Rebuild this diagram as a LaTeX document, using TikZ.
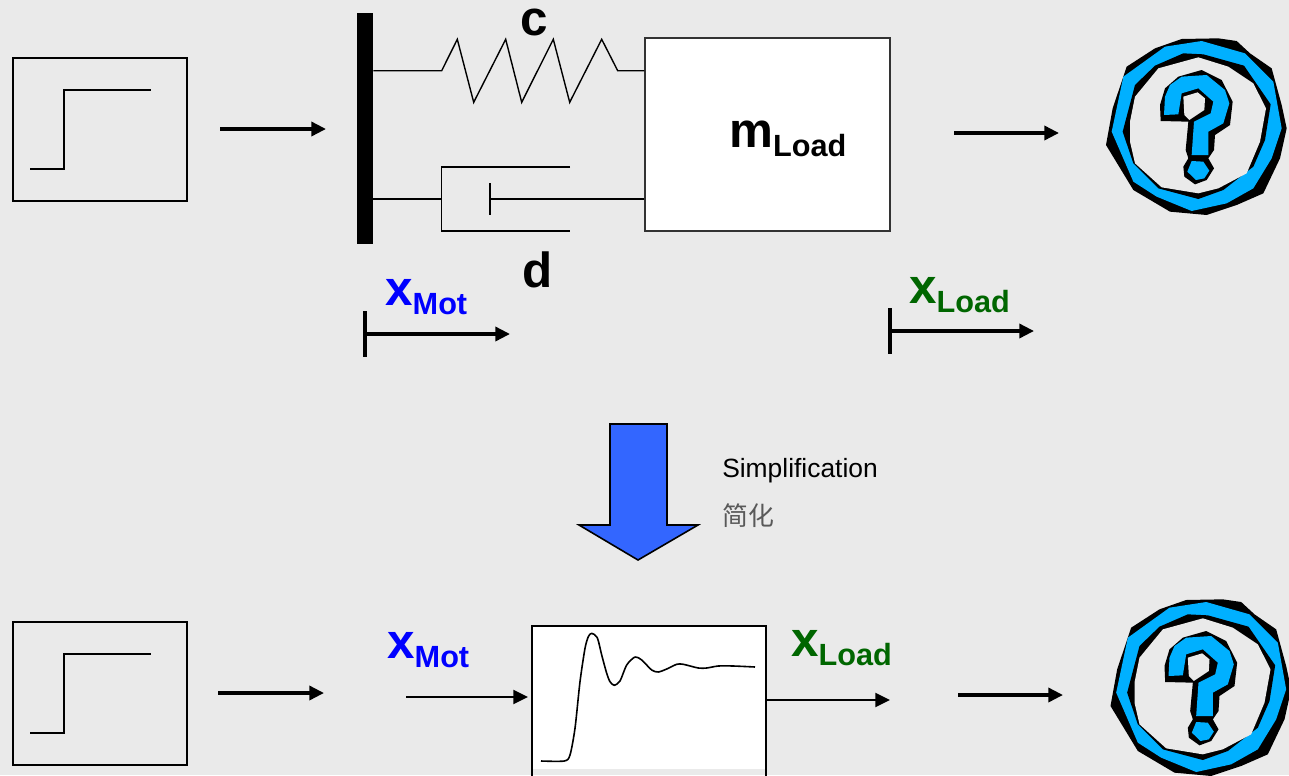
\documentclass[tikz,border=0pt]{standalone}
\usepackage{fontspec}
\setmainfont{Liberation Sans}
\newfontfamily\cjkfont{Noto Sans CJK SC}
\usetikzlibrary{arrows.meta}
\definecolor{bgc}{HTML}{EAEAEA}
\definecolor{cyanq}{HTML}{00B0FF}
\definecolor{xblue}{HTML}{0000FF}
\definecolor{xgreen}{HTML}{006600}
\definecolor{bigblue}{HTML}{3366FF}
\newcommand{\biglab}[2]{{\fontsize{37}{37}\selectfont\bfseries #1\raisebox{-7.2pt}{\fontsize{23}{23}\selectfont #2}}}
\newcommand{\qicon}[2]{%
\begin{scope}[shift={(#1,#2)},x=0.25pt,y=-0.25pt]
\fill[black] (275,42)--(385,40)--(440,48)--(480,85)--(545,130)--(575,240)--(590,310)--(570,400)--(520,505)--(440,540)--(350,570)--(240,560)--(130,495)--(48,360)--(68,250)--(110,125)--(195,70)--cycle;
\fill[cyanq] (225,65)--(335,48)--(465,85)--(550,170)--(575,310)--(545,400)--(490,490)--(410,535)--(305,558)--(200,515)--(130,470)--(65,320)--(100,155)--cycle;
\fill[black] (195,122)--(280,85)--(340,88)--(462,122)--(542,238)--(525,345)--(490,425)--(400,495)--(325,522)--(205,490)--(130,415)--(98,320)--(135,180)--cycle;
\fill[bgc] (205,130)--(325,97)--(415,125)--(490,175)--(528,250)--(510,350)--(470,445)--(385,490)--(325,505)--(215,487)--(135,415)--(120,350)--(120,290)--(135,215)--cycle;
\fill[black] (335,135)--(395,165)--(428,230)--(420,300)--(375,330)--(372,375)--(355,400)--(372,430)--(350,465)--(315,478)--(283,455)--(280,425)--(295,400)--(287,375)--(295,290)--(212,288)--(210,240)--(225,190)--(265,155)--cycle;
\fill[bgc] (280,215)--(323,202)--(345,220)--(343,255)--(298,285)--(283,270)--cycle;
\fill[cyanq] (275,155)--(350,150)--(405,195)--(418,235)--(400,295)--(355,320)--(355,390)--(305,390)--(312,290)--(362,265)--(370,230)--(325,190)--(275,205)--(265,268)--(222,270)--(225,215)--(240,180)--cycle;
\fill[cyanq] (305,408)--(340,410)--(358,437)--(343,460)--(318,465)--(292,440)--cycle;
\end{scope}}
\tikzset{
 thinl/.style={line width=1.05pt},
 arr/.style={line width=2.6pt,-{Triangle[length=11pt,width=10.5pt]}},
 tick/.style={line width=2.6pt},
 arrs/.style={line width=1.6pt,-{Triangle[length=11pt,width=10.5pt]}},
 box/.style={draw=black,line width=1.5pt,fill=none,inner sep=0pt,minimum width=130.5pt,minimum height=107.25pt},
 lab/.style={inner sep=0pt,anchor=base west},
 stepl/.style={line width=2pt},
}
\begin{document}
\begin{tikzpicture}[x=0.75pt,y=-0.75pt]
\useasboundingbox (0,0) rectangle (1289,775);
\fill[bgc] (0,0) rectangle (1289,775);
% step inputs
\node[box] (step1) at (100,129.5) {};
\node[box] (step2) at (100,693.5) {};
\draw[stepl] (30,169)--(64,169)--(64,90)--(151,90);
\draw[stepl] (30,733)--(64,733)--(64,654)--(151,654);
% wall
\node[fill=black,inner sep=0pt,minimum width=12pt,minimum height=173.25pt] (wall) at (365,128.5) {};
% mass
\node[draw=black!80,fill=white,line width=1.1pt,inner sep=0pt,minimum width=183.75pt,minimum height=144.75pt] (mass) at (767.5,134.5) {};
\node[lab] (mtext) at (729,147) {\biglab{m}{Load}};
% spring
\coordinate (sa) at (wall.east|-0,70.7);
\coordinate (sb) at (mass.west|-0,70.7);
\draw[thinl,line join=miter] (sa)--(441.7,70.7)--(457.3,39.3)--(473.7,102.3)--(505.7,39.3)--(521.7,102.3)--(553.3,39.3)--(569.7,102.3)--(601.7,39.3)--(617.7,70.7)--(sb);
\node[lab,anchor=base] (ctext) at (534,35) {\fontsize{37}{37}\selectfont\bfseries c};
% damper
\coordinate (da) at (wall.east|-0,199);
\coordinate (db) at (mass.west|-0,199);
\draw[thinl] (da)--(441.7,199);
\draw[thinl] (570,167)--(441.7,167)--(441.7,231)--(570,231);
\draw[thinl] (490,183)--(490,215);
\draw[thinl] (490,199)--(db);
\node[lab,anchor=base] (dtext) at (538,287) {\fontsize{37}{37}\selectfont\bfseries d};
% top arrows
\coordinate (a1s) at (220,129); \coordinate (a1e) at (326,129);
\draw[arr] (a1s)--(a1e);
\coordinate (a2s) at (954,133); \coordinate (a2e) at (1059,133);
\draw[arr] (a2s)--(a2e);
% displacement markers
\coordinate (t1a) at (365,311); \coordinate (t1b) at (365,357); \coordinate (t1c) at (365,334); \coordinate (t1d) at (510,334);
\draw[tick] (t1a)--(t1b);
\draw[arr] (t1c)--(t1d);
\coordinate (t2a) at (890,308); \coordinate (t2b) at (890,354); \coordinate (t2c) at (890,331); \coordinate (t2d) at (1034,331);
\draw[tick] (t2a)--(t2b);
\draw[arr] (t2c)--(t2d);
\node[lab,text=xblue] (xm1) at (385,305) {\biglab{x}{Mot}};
\node[lab,text=xgreen] (xl1) at (909,303) {\biglab{x}{Load}};
% simplification arrow
\draw[fill=bigblue,draw=black,line width=1.2pt] (610,424)--(667,424)--(667,525)--(698,525)--(638,560)--(579,525)--(610,525)--cycle;
\node[lab] (simp) at (722,477) {\fontsize{19.8}{19.8}\selectfont Simplification};
\node[lab,text=black!65] (jian) at (722,525) {\fontsize{19.4}{19.4}\selectfont\cjkfont 简化};
% lower block
\fill[white] (532,626) rectangle (766,769);
\draw[line width=1.6pt] (532,776)--(532,626)--(766,626)--(766,776);
\coordinate (blkw) at (532,697); \coordinate (blke) at (766,700);
\draw[line width=1.2pt,line join=round] plot[smooth,tension=0.45] coordinates {(541,761) (564.3,761) (570,755) (575,728.3) (580,681.7) (585,648.3) (588.3,636.7) (591.7,633.3) (597.3,637.7) (601.7,655) (606.7,673.3) (610,681.7) (614.3,685.3) (620,681) (626.7,665) (635,657) (641.7,660) (651.7,670) (658.3,672) (666.7,669) (676.7,664.3) (683.3,664.3) (698.3,668) (706.7,668) (718.3,666) (733.3,666) (755,667)};
% lower arrows
\coordinate (b1s) at (218,693); \coordinate (b1e) at (324,693);
\draw[arr] (b1s)--(b1e);
\coordinate (b2s) at (406,697);
\draw[arrs,shorten >=3pt] (b2s)--(blkw);
\coordinate (b3e) at (890,700);
\draw[arrs] (blke)--(b3e);
\coordinate (b4s) at (958,695); \coordinate (b4e) at (1063,695);
\draw[arr] (b4s)--(b4e);
\node[lab,text=xblue] (xm2) at (387,658) {\biglab{x}{Mot}};
\node[lab,text=xgreen] (xl2) at (791,656) {\biglab{x}{Load}};
% question icons
\qicon{1090}{25}
\qicon{1094.5}{586}
\end{tikzpicture}
\end{document}
